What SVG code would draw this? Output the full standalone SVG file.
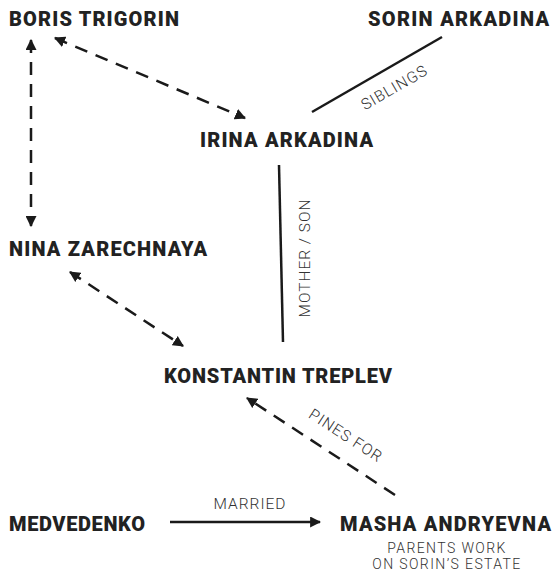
<svg xmlns="http://www.w3.org/2000/svg" width="553" height="574" viewBox="0 0 553 574">
<defs>
<marker id="ah" viewBox="0 0 10 10" refX="9" refY="5" markerWidth="11" markerHeight="11" markerUnits="userSpaceOnUse" orient="auto-start-reverse">
<path d="M0,0 L10,5 L0,10 z" fill="#1a1a1a"/>
</marker>
<style>
.n{font-family:Roboto,"Liberation Sans",sans-serif;font-weight:900;font-size:20px;fill:#222}
.l{font-family:Roboto,"Liberation Sans",sans-serif;font-weight:300;font-size:15.5px;fill:#333;letter-spacing:1px}
.p{font-family:Roboto,"Liberation Sans",sans-serif;font-weight:300;font-size:14px;fill:#333;letter-spacing:1.4px}
.s{stroke:#1a1a1a;stroke-width:2.5;fill:none}
.d{stroke:#1a1a1a;stroke-width:2.5;fill:none;stroke-dasharray:13 9}
</style>
</defs>
<rect width="553" height="574" fill="#fff"/>
<g id="connectors">
<line class="d" x1="55" y1="38" x2="245" y2="118" marker-start="url(#ah)" marker-end="url(#ah)"/>
<line class="d" x1="31" y1="40" x2="31" y2="226" marker-start="url(#ah)" marker-end="url(#ah)"/>
<line class="s" x1="442" y1="37" x2="312" y2="112"/>
<text class="l" transform="translate(397,92) rotate(-30)" text-anchor="middle">SIBLINGS</text>
<line class="s" x1="279" y1="165" x2="283" y2="342"/>
<text class="l" transform="translate(310,258) rotate(-90)" text-anchor="middle">MOTHER / SON</text>
<line class="d" x1="70" y1="272" x2="183" y2="346" marker-start="url(#ah)" marker-end="url(#ah)"/>
<line class="d" x1="395" y1="495" x2="247" y2="398" marker-end="url(#ah)"/>
<text class="l" transform="translate(343,440) rotate(33)" text-anchor="middle">PINES FOR</text>
<line class="s" x1="170" y1="522" x2="320" y2="522" marker-end="url(#ah)"/>
<text class="l" x="250" y="509" text-anchor="middle">MARRIED</text>
</g>
<g id="boris"><text class="n" x="9" y="26" textLength="170" lengthAdjust="spacing">BORIS TRIGORIN</text></g>
<g id="sorin"><text class="n" x="368" y="26" textLength="181" lengthAdjust="spacing">SORIN ARKADINA</text></g>
<g id="irina"><text class="n" x="200" y="147" textLength="173" lengthAdjust="spacing">IRINA ARKADINA</text></g>
<g id="nina"><text class="n" x="9" y="256" textLength="198" lengthAdjust="spacing">NINA ZARECHNAYA</text></g>
<g id="konstantin"><text class="n" x="164" y="383" textLength="228" lengthAdjust="spacing">KONSTANTIN TREPLEV</text></g>
<g id="medvedenko"><text class="n" x="9" y="531" textLength="136" lengthAdjust="spacing">MEDVEDENKO</text></g>
<g id="masha"><text class="n" x="340" y="531" textLength="211" lengthAdjust="spacing">MASHA ANDRYEVNA</text>
<text class="p" x="447" y="553" text-anchor="middle">PARENTS WORK</text>
<text class="p" x="447" y="569" text-anchor="middle">ON SORIN’S ESTATE</text></g>
</svg>
